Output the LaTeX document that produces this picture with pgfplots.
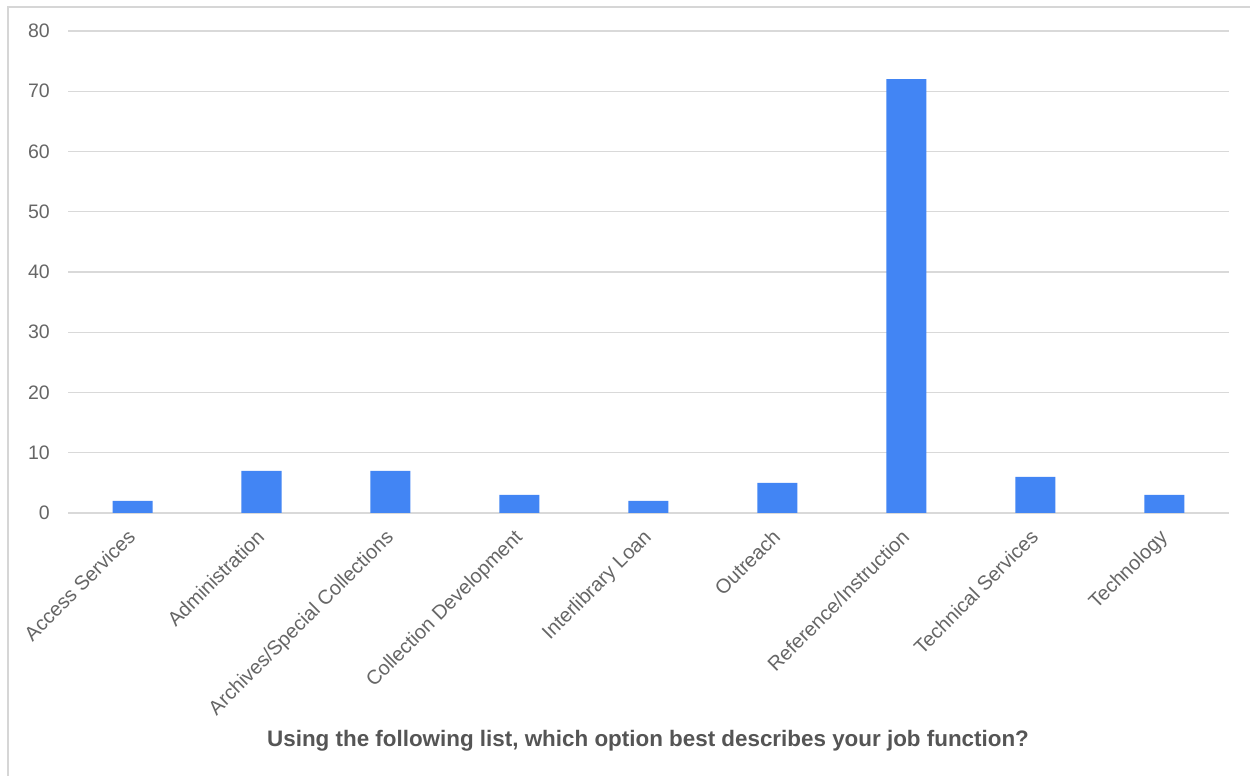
\documentclass[border=0pt]{standalone}
\usepackage{pgfplots}
\pgfplotsset{compat=1.18}
\usepackage{fontspec}
\setmainfont{Liberation Sans}
\definecolor{barblue}{RGB}{66,133,244}
\definecolor{gridgray}{RGB}{217,217,217}
\definecolor{ticktext}{RGB}{102,102,102}
\definecolor{labeltext}{RGB}{85,85,85}
\definecolor{framegray}{RGB}{214,214,214}
\begin{document}
\begin{tikzpicture}
\path[use as bounding box] (0pt,0pt) rectangle (1250pt,776pt);
\fill[white] (0pt,0pt) rectangle (1250pt,776pt);
\draw[framegray, line width=2pt] (8pt,0pt) -- (8pt,769pt) -- (1250pt,769pt);
\begin{axis}[
  at={(68pt,263pt)}, anchor=south west,
  scale only axis,
  width=1161pt, height=482pt,
  xmin=-0.5, xmax=8.5,
  ymin=0, ymax=80,
  ytick={0,10,...,80},
  xtick={0,...,8},
  xticklabels={Access Services,Administration,Archives/Special Collections,Collection Development,Interlibrary Loan,Outreach,Reference/Instruction,Technical Services,Technology},
  axis line style={draw=none},
  major tick length=0pt,
  ymajorgrids,
  major grid style={gridgray, line width=1.4pt},
  tick label style={ticktext},
  yticklabel style={inner sep=0pt, anchor=east, xshift=-18pt, font=\fontsize{19.5}{21}\selectfont},
  xticklabel style={inner sep=0pt, rotate=45, anchor=north east, xshift=-15pt, yshift=-6pt, font=\fontsize{20}{22}\selectfont},
  /pgf/number format/assume math mode=true,
  clip=false,
]
\addplot[ybar, bar width=40pt, fill=barblue, draw=none] coordinates {
  (0,2) (1,7) (2,7) (3,3) (4,2) (5,5) (6,72) (7,6) (8,3)
};
\end{axis}
\node[labeltext, font=\bfseries\fontsize{22.4}{25}\selectfont] at (648pt,35pt) {Using the following list, which option best describes your job function?};
\end{tikzpicture}
\end{document}
